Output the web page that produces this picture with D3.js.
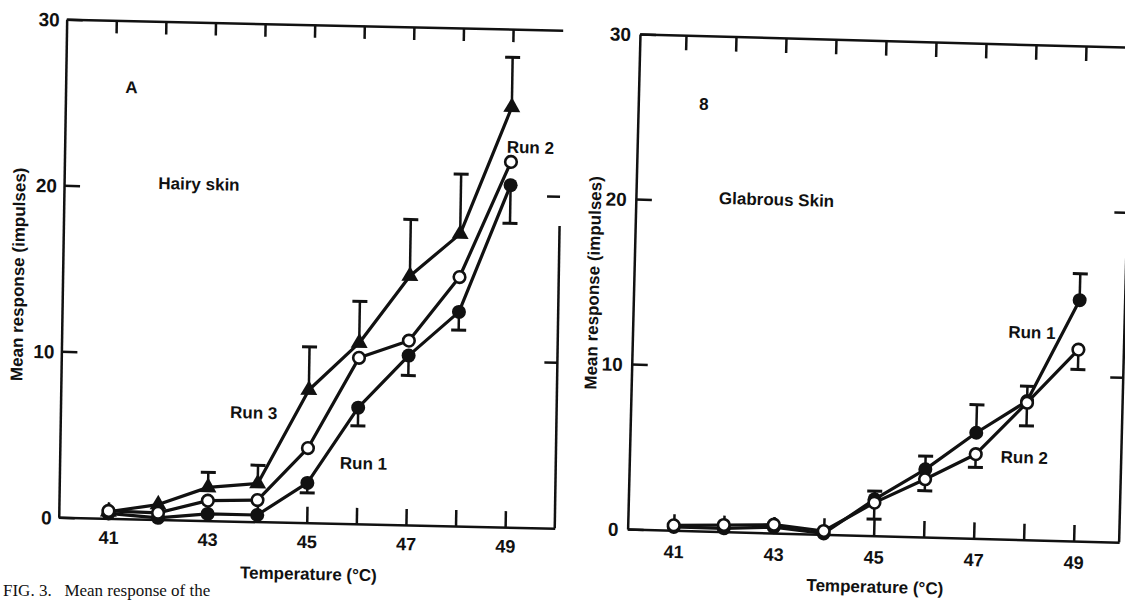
<!DOCTYPE html>
<html>
<head>
<meta charset="utf-8">
<script src="https://cdn.jsdelivr.net/npm/d3@7"></script>
<style>
body { margin: 0; background: #fff; }
svg { display: block; }
</style>
</head>
<body>
<svg width="1125" height="602"></svg>
<script>
var svg = d3.select('svg');

// Temperatures (deg C) shared by both panels
var temps = [41, 42, 43, 44, 45, 46, 47, 48, 49];
var xLabelTemps = [41, 43, 45, 47, 49];
var yTicks = [0, 10, 20, 30];

// Panel A - hairy skin
var hairyRun1 = [0.3, 0.1, 0.4, 0.4, 2.4, 7.0, 10.2, 12.9, 20.6];
var hairyRun1Err = [0, 0, 0, 0, 0.6, 1.1, 1.2, 1.1, 2.3];       // drawn downward
var hairyRun2 = [0.45, 0.4, 1.2, 1.3, 4.5, 10.0, 11.1, 15.0, 22.0];
var hairyRun3 = [0.4, 0.9, 2.0, 2.3, 8.0, 10.9, 15.0, 17.6, 25.3];
var hairyRun3Err = [0, 0, 0.9, 1.1, 2.6, 2.5, 3.4, 3.6, 3.0];    // drawn upward

// Panel B - glabrous skin
var glabRun1 = [0.2, 0.2, 0.35, 0.05, 2.2, 4.1, 6.4, 8.4, 14.6];
var glabRun1Err = [0, 0, 0, 0, 0.5, 0.8, 1.7, 0.9, 1.6];         // upward
var glabRun2 = [0.3, 0.4, 0.5, 0.2, 2.0, 3.5, 5.1, 8.3, 11.6];
var glabRun2Err = [0, 0, 0, 0, 1.0, 0.7, 0.8, 1.4, 1.2];         // downward

var ink = '#111';
var sansFont = '"Liberation Sans", Arial, Helvetica, sans-serif';

function styleText(sel, size) {
    sel.style('font-family', sansFont)
        .style('font-weight', 'bold')
        .style('font-size', size + 'px')
        .style('fill', ink);
}

function drawPanel(cfg) {
    // the scanned page is slightly skewed, so each panel is sheared a little
    var g = svg.append('g')
        .attr('transform', 'matrix(1,' + cfg.skewY + ',' + cfg.skewX + ',1,' + cfg.left + ',' + cfg.top + ')');

    var x = d3.scaleLinear().domain(cfg.xDomain).range([0, cfg.width]);
    var y = d3.scaleLinear().domain([0, 30]).range([cfg.height, 0]);

    // frame + ticks
    var top = g.append('g')
        .call(d3.axisTop(x).tickValues(temps).tickSize(-cfg.topTick).tickSizeOuter(0).tickFormat(''));
    var bottom = g.append('g')
        .attr('transform', 'translate(0,' + cfg.height + ')')
        .call(d3.axisBottom(x).tickValues(temps).tickSize(-16).tickSizeOuter(0)
            .tickPadding(cfg.xLabelPad)
            .tickFormat(function(d) { return xLabelTemps.indexOf(d) >= 0 ? d : ''; }));
    var left = g.append('g')
        .call(d3.axisLeft(y).tickValues(yTicks).tickSize(-16).tickSizeOuter(0).tickPadding(cfg.yLabelPad));
    var right = g.append('g')
        .attr('transform', 'translate(' + cfg.width + ',0)')
        .call(d3.axisRight(y).tickValues([10, 20]).tickSize(-13).tickSizeOuter(0).tickFormat(''));
    right.select('.domain').remove();
    g.append('line')
        .attr('x1', cfg.width).attr('x2', cfg.width)
        .attr('y1', y(0)).attr('y2', y(cfg.rightTop))
        .attr('stroke', ink).attr('stroke-width', 2.5);

    [top, bottom, left, right].forEach(function(a) {
        a.selectAll('.domain').attr('stroke', ink).attr('stroke-width', 2.5);
        a.selectAll('.tick line').attr('stroke', ink).attr('stroke-width', 2.5);
        styleText(a.selectAll('text'), 18);
    });
    styleText(left.selectAll('.tick text'), 19);
    left.selectAll('.tick text').attr('dy', '0.36em');

    // series lines
    var line = d3.line()
        .x(function(d) { return x(d.t); })
        .y(function(d) { return y(d.v); });
    cfg.series.forEach(function(s) {
        s.points = temps.map(function(t, i) {
            return { t: t, v: s.values[i], e: s.err ? s.err[i] : 0 };
        });
        g.append('path')
            .datum(s.points)
            .attr('d', line)
            .attr('fill', 'none')
            .attr('stroke', ink)
            .attr('stroke-width', 3.2)
            .attr('stroke-linejoin', 'round');
    });

    // error bars
    cfg.series.forEach(function(s) {
        var bars = g.append('g').selectAll('g')
            .data(s.points.filter(function(d) { return d.e > 0; }))
            .enter().append('g');
        bars.append('line')
            .attr('x1', function(d) { return x(d.t); })
            .attr('x2', function(d) { return x(d.t); })
            .attr('y1', function(d) { return y(d.v); })
            .attr('y2', function(d) { return y(d.v + s.errDir * d.e); })
            .attr('stroke', ink).attr('stroke-width', 2.5);
        bars.append('line')
            .attr('x1', function(d) { return x(d.t) - 7.5; })
            .attr('x2', function(d) { return x(d.t) + 7.5; })
            .attr('y1', function(d) { return y(d.v + s.errDir * d.e); })
            .attr('y2', function(d) { return y(d.v + s.errDir * d.e); })
            .attr('stroke', ink).attr('stroke-width', 3);
    });

    // markers
    cfg.series.forEach(function(s) {
        var m = g.append('g').selectAll('.mark')
            .data(s.points)
            .enter();
        if (s.marker == 'triangle') {
            m.append('path')
                .attr('d', d3.symbol().type(d3.symbolTriangle).size(125))
                .attr('transform', function(d) { return 'translate(' + [x(d.t), y(d.v)] + ')'; })
                .attr('fill', ink);
        } else {
            m.append('circle')
                .attr('cx', function(d) { return x(d.t); })
                .attr('cy', function(d) { return y(d.v); })
                .attr('r', s.marker == 'open' ? 5.8 : 7)
                .attr('fill', s.marker == 'open' ? '#fff' : ink)
                .attr('stroke', ink)
                .attr('stroke-width', s.marker == 'open' ? 2.6 : 0);
        }
    });

    // labels
    cfg.labels.forEach(function(l) {
        var t = g.append('text')
            .attr('x', x(l.t))
            .attr('y', y(l.v))
            .attr('dy', '0.35em')
            .style('text-anchor', l.anchor || 'start')
            .text(l.text);
        styleText(t, l.size || 17);
    });

    var xt = g.append('text')
        .attr('x', x(45.05))
        .attr('y', cfg.height + 51)
        .attr('dy', '0.35em')
        .style('text-anchor', 'middle')
        .text('Temperature (°C)');
    styleText(xt, 17);

    var yt = g.append('text')
        .attr('transform', 'translate(' + [cfg.yTitleX, cfg.yTitleY] + ') rotate(-90)')
        .attr('dy', '0.35em')
        .style('text-anchor', 'middle')
        .text('Mean response (impulses)');
    styleText(yt, 17);
}

drawPanel({
    left: 66.7, top: 19.3, skewY: 0.022, skewX: -0.016,
    width: 496, height: 498, xDomain: [40, 50],
    topTick: 13, xLabelPad: 12.5, yLabelPad: 7, rightTop: 18.2,
    yTitleX: -44.6, yTitleY: 256,
    series: [
        { values: hairyRun1, err: hairyRun1Err, errDir: -1, marker: 'filled' },
        { values: hairyRun3, err: hairyRun3Err, errDir: 1, marker: 'triangle' },
        { values: hairyRun2, marker: 'open' }
    ],
    labels: [
        { text: 'A', t: 41.33, v: 26.0, anchor: 'middle' },
        { text: 'Hairy skin', t: 41.9, v: 20.26 },
        { text: 'Run 3', t: 43.42, v: 6.56 },
        { text: 'Run 1', t: 45.65, v: 3.66 },
        { text: 'Run 2', t: 48.91, v: 22.9 }
    ]
});

drawPanel({
    left: 640, top: 34, skewY: 0.027, skewX: -0.025,
    width: 491.5, height: 495, xDomain: [40.08, 49.91],
    topTick: 15, xLabelPad: 15, yLabelPad: 9, rightTop: 30,
    yTitleX: -40.7, yTitleY: 250,
    series: [
        { values: glabRun1, err: glabRun1Err, errDir: 1, marker: 'filled' },
        { values: glabRun2, err: glabRun2Err, errDir: -1, marker: 'open' }
    ],
    labels: [
        { text: '8', t: 41.39, v: 25.87, anchor: 'middle' },
        { text: 'Glabrous Skin', t: 41.74, v: 20.2 },
        { text: 'Run 1', t: 47.59, v: 12.57 },
        { text: 'Run 2', t: 47.5, v: 4.99 }
    ]
});

// caption of the page (cut off in the scan), kept fully inside the frame
svg.append('text')
    .attr('x', 3)
    .attr('y', 596)
    .attr('xml:space', 'preserve')
    .style('font-family', '"Liberation Serif", "Times New Roman", serif')
    .style('font-size', '17px')
    .style('fill', ink)
    .text('FIG. 3.   Mean response of the');
</script>
</body>
</html>
